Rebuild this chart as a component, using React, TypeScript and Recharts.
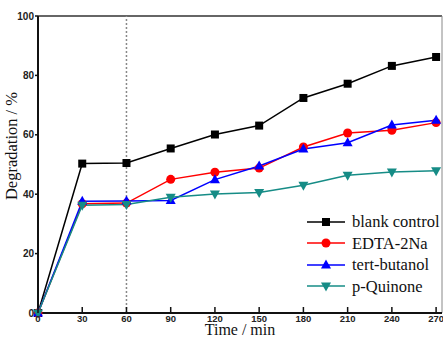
import {
  LineChart, Line, XAxis, YAxis, ReferenceLine, Legend, Label,
} from "recharts";

// scavenger experiment: degradation over time
const TIMES = [0, 30, 60, 90, 120, 150, 180, 210, 240, 270];
const BLANK = [0, 50.3, 50.5, 55.4, 60.1, 63.1, 72.4, 77.2, 83.2, 86.2];
const EDTA = [0, 36.8, 37.0, 45.0, 47.4, 48.8, 55.9, 60.6, 61.5, 64.1];
const TBA = [0, 37.6, 37.7, 37.9, 44.9, 49.5, 55.2, 57.3, 63.3, 64.9];
const PBQ = [0, 36.3, 36.5, 39.0, 40.1, 40.6, 43.0, 46.4, 47.5, 47.9];

const X_TICKS = [0, 30, 60, 90, 120, 150, 180, 210, 240, 270];
const Y_TICKS = [0, 20, 40, 60, 80, 100];
const X_MAX = 274;

const SERIES = [
  { key: "blank", name: "blank control", color: "#000000", shape: "square" },
  { key: "edta", name: "EDTA-2Na", color: "#ff0000", shape: "circle" },
  { key: "tba", name: "tert-butanol", color: "#0000ff", shape: "up" },
  { key: "pbq", name: "p-Quinone", color: "#168c86", shape: "down" },
];

const rows = TIMES.map((t, i) => ({
  t,
  blank: BLANK[i],
  edta: EDTA[i],
  tba: TBA[i],
  pbq: PBQ[i],
}));

const SERIF = "'Liberation Serif', 'Times New Roman', serif";
const SANS = "'Liberation Sans', Arial, sans-serif";

function Marker({ shape, cx, cy, color }: any) {
  if (cx == null || cy == null) return null;
  if (shape === "square") {
    return <rect x={cx - 4} y={cy - 4} width={8} height={8} fill={color} />;
  }
  if (shape === "circle") {
    return <circle cx={cx} cy={cy} r={4.5} fill={color} />;
  }
  const d = shape === "up" ? 1 : -1;
  const pts = `${cx},${cy - 5.5 * d} ${cx + 5},${cy + 3.5 * d} ${cx - 5},${cy + 3.5 * d}`;
  return <polygon points={pts} fill={color} />;
}

function makeDot(shape: string, color: string) {
  return (props: any) => (
    <Marker key={`${shape}-${props.index}`} shape={shape} cx={props.cx} cy={props.cy} color={color} />
  );
}

// x ticks point into the plot, labels sit below the axis line
function XTick({ x, y, payload }: any) {
  return (
    <g>
      <line x1={x} y1={y} x2={x} y2={y - 6} stroke="#111" strokeWidth={1.5} />
      <text x={x} y={y + 9} textAnchor="middle" fontFamily={SANS} fontWeight="bold" fontSize={9.5} fill="#222">
        {payload.value}
      </text>
    </g>
  );
}

function LegendBox() {
  return (
    <div style={{ fontFamily: SERIF, fontSize: 16.5, lineHeight: "21.5px", color: "#111" }}>
      {SERIES.map((s) => (
        <div key={s.key} style={{ display: "flex", alignItems: "center", whiteSpace: "nowrap" }}>
          <svg width={42} height={14} style={{ marginRight: 3 }}>
            <line x1={0} y1={7} x2={38} y2={7} stroke={s.color} strokeWidth={1.5} />
            <Marker shape={s.shape} cx={19} cy={7} color={s.color} />
          </svg>
          <span>{s.name}</span>
        </div>
      ))}
    </div>
  );
}

function YTitle({ viewBox }: any) {
  const x = viewBox.x + 17;
  const y = viewBox.y + 130;
  return (
    <text x={x} y={y} transform={`rotate(-90, ${x}, ${y})`} textAnchor="middle"
      fontFamily={SERIF} fontSize={16.5} fill="#111">
      Degradation / %
    </text>
  );
}

function XTitle({ viewBox }: any) {
  return (
    <text x={viewBox.x + viewBox.width / 2} y={viewBox.y + 21.5} textAnchor="middle"
      fontFamily={SERIF} fontSize={16} fill="#111">
      Time / min
    </text>
  );
}

export default function App() {
  return (
    <div style={{ position: "absolute", left: 0, top: 0, width: 443, height: 338, background: "#fff" }}>
      <LineChart width={443} height={338} data={rows} margin={{ top: 16, right: 1, left: 0, bottom: 0 }}>
        <XAxis
          dataKey="t"
          type="number"
          domain={[0, X_MAX]}
          ticks={X_TICKS}
          interval={0}
          height={25}
          tickSize={0}
          tickMargin={0}
          tick={<XTick />}
          axisLine={{ stroke: "#111", strokeWidth: 2 }}
        >
          <Label content={<XTitle />} />
        </XAxis>
        <YAxis
          type="number"
          domain={[0, 100]}
          ticks={Y_TICKS}
          interval={0}
          width={38}
          tickSize={3}
          tickMargin={1}
          tick={{ fontFamily: SANS, fontWeight: "bold", fontSize: 10, fill: "#222" }}
          tickLine={{ stroke: "#111", strokeWidth: 1.5 }}
          axisLine={{ stroke: "#111", strokeWidth: 2 }}
        >
          <Label content={<YTitle />} />
        </YAxis>
        <ReferenceLine y={100} stroke="#333" strokeWidth={1.5} />
        <ReferenceLine x={X_MAX} stroke="#888" strokeWidth={1} />
        <ReferenceLine x={60} stroke="#888" strokeWidth={1.5} strokeDasharray="2 2" />
        {SERIES.map((s) => (
          <Line
            key={s.key}
            dataKey={s.key}
            name={s.name}
            type="linear"
            stroke={s.color}
            strokeWidth={1.5}
            dot={makeDot(s.shape, s.color)}
            activeDot={false}
            isAnimationActive={false}
          />
        ))}
        <Legend
          layout="vertical"
          align="center"
          verticalAlign="middle"
          content={<LegendBox />}
          wrapperStyle={{ left: 307, top: 211, width: "auto" }}
        />
      </LineChart>
    </div>
  );
}
